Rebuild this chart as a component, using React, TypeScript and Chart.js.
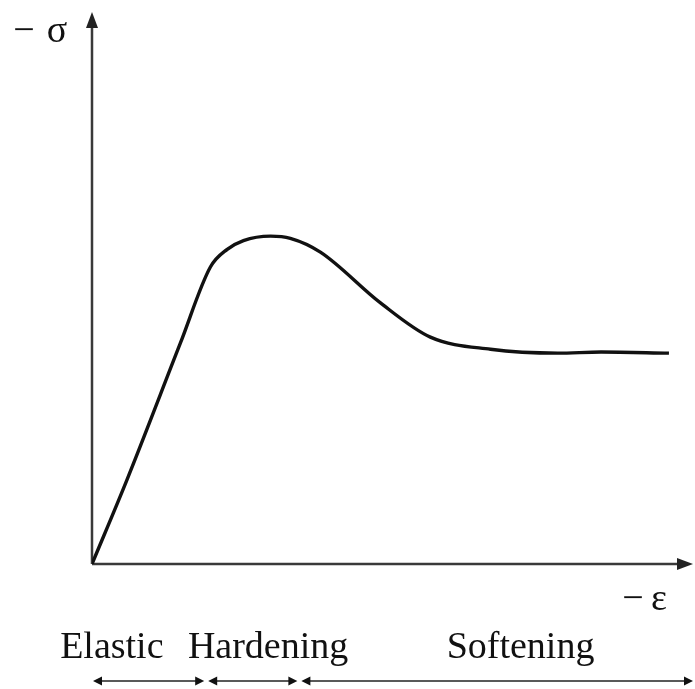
import React, { useEffect, useRef } from "react";
import { Chart, registerables } from "chart.js";

Chart.register(...registerables);

// Stress–strain curve (compressive, arbitrary units 0–100 on both axes)
const strain = [0, 5.8, 14.7, 19.7, 22.5, 25.2, 29.7, 33, 38, 48, 56.3, 66.3, 77.5, 84.7, 96];
const stress = [0, 15.2, 40.0, 53.8, 57.0, 58.6, 59.4, 59.0, 56.5, 47.3, 41.1, 38.9, 38.2, 38.4, 38.2];

// Phase regions along the strain axis
const phaseNames = ["Elastic", "Hardening", "Softening"];
const phaseBounds = [0, 19.0, 34.5, 100];
const phaseLabelX = [3.3, 29.3, 71.3];

const axisLabelY = ["−", "σ"];
const axisLabelX = ["−", "ε"];

const FONT = '"Liberation Serif", "Times New Roman", serif';

function arrowHead(ctx: CanvasRenderingContext2D, x: number, y: number, dir: "up" | "right" | "left", len: number, half: number) {
  ctx.beginPath();
  if (dir === "up") {
    ctx.moveTo(x, y);
    ctx.lineTo(x - half, y + len);
    ctx.lineTo(x + half, y + len);
  } else if (dir === "right") {
    ctx.moveTo(x, y);
    ctx.lineTo(x - len, y - half);
    ctx.lineTo(x - len, y + half);
  } else {
    ctx.moveTo(x, y);
    ctx.lineTo(x + len, y - half);
    ctx.lineTo(x + len, y + half);
  }
  ctx.closePath();
  ctx.fill();
}

const annotations = {
  id: "diagramAnnotations",
  beforeDatasetsDraw(chart: any) {
    const { ctx, scales } = chart;
    const xs = scales.x;
    const ys = scales.y;
    const x0 = xs.getPixelForValue(0);
    const x1 = xs.getPixelForValue(100);
    const y0 = ys.getPixelForValue(0);
    const y1 = ys.getPixelForValue(100);
    ctx.save();
    ctx.strokeStyle = "#3a3a3a";
    ctx.fillStyle = "#222";
    ctx.lineWidth = 2.5;
    // vertical axis
    ctx.beginPath();
    ctx.moveTo(x0, y0);
    ctx.lineTo(x0, y1 + 10);
    ctx.stroke();
    arrowHead(ctx, x0, y1, "up", 16, 6);
    // horizontal axis
    ctx.beginPath();
    ctx.moveTo(x0, y0);
    ctx.lineTo(x1 - 10, y0);
    ctx.stroke();
    arrowHead(ctx, x1, y0, "right", 16, 6);
    ctx.restore();
  },
  afterDraw(chart: any) {
    const { ctx, scales } = chart;
    const xs = scales.x;
    const ys = scales.y;
    const x0 = xs.getPixelForValue(0);
    const x1 = xs.getPixelForValue(100);
    const y0 = ys.getPixelForValue(0);
    const y1 = ys.getPixelForValue(100);
    ctx.save();
    ctx.fillStyle = "#111";
    ctx.font = `38px ${FONT}`;
    ctx.textBaseline = "alphabetic";
    ctx.textAlign = "center";
    // axis titles
    ctx.fillText(axisLabelY[0], x0 - 68, y1 + 30);
    ctx.fillText(axisLabelY[1], x0 - 35, y1 + 30);
    ctx.fillText(axisLabelX[0], x1 - 60, y0 + 46);
    ctx.fillText(axisLabelX[1], x1 - 34, y0 + 46);
    // phase labels
    const labelY = y0 + 94;
    phaseNames.forEach((name, i) => {
      ctx.fillText(name, xs.getPixelForValue(phaseLabelX[i]), labelY);
    });
    // phase extent arrows
    const ay = y0 + 117;
    ctx.strokeStyle = "#222";
    ctx.fillStyle = "#111";
    ctx.lineWidth = 1.6;
    for (let i = 0; i < phaseNames.length; i++) {
      const a = xs.getPixelForValue(phaseBounds[i]) + (i === 0 ? 1 : 2);
      const b = xs.getPixelForValue(phaseBounds[i + 1]) - (i === phaseNames.length - 1 ? 0 : 2);
      ctx.beginPath();
      ctx.moveTo(a + 4, ay);
      ctx.lineTo(b - 4, ay);
      ctx.stroke();
      arrowHead(ctx, a, ay, "left", 9, 4.5);
      arrowHead(ctx, b, ay, "right", 9, 4.5);
    }
    ctx.restore();
  },
};

export default function App() {
  const canvasRef = useRef<HTMLCanvasElement | null>(null);

  useEffect(() => {
    const canvas = canvasRef.current;
    if (!canvas) return;
    const chart = new Chart(canvas, {
      type: "line",
      data: {
        datasets: [
          {
            data: strain.map((x, i) => ({ x, y: stress[i] })),
            borderColor: "#111",
            borderWidth: 3.4,
            pointRadius: 0,
            fill: false,
            cubicInterpolationMode: "monotone",
          },
        ],
      },
      options: {
        animation: false,
        responsive: true,
        maintainAspectRatio: false,
        layout: { padding: { left: 92, right: 2, top: 12, bottom: 125 } },
        plugins: { legend: { display: false }, tooltip: { enabled: false } },
        scales: {
          x: { type: "linear", min: 0, max: 100, display: false },
          y: { type: "linear", min: 0, max: 100, display: false },
        },
      },
      plugins: [annotations],
    });
    return () => chart.destroy();
  }, []);

  return (
    <div style={{ position: "absolute", left: 0, top: 0, width: 695, height: 689, background: "#fff" }}>
      <canvas ref={canvasRef} />
    </div>
  );
}
